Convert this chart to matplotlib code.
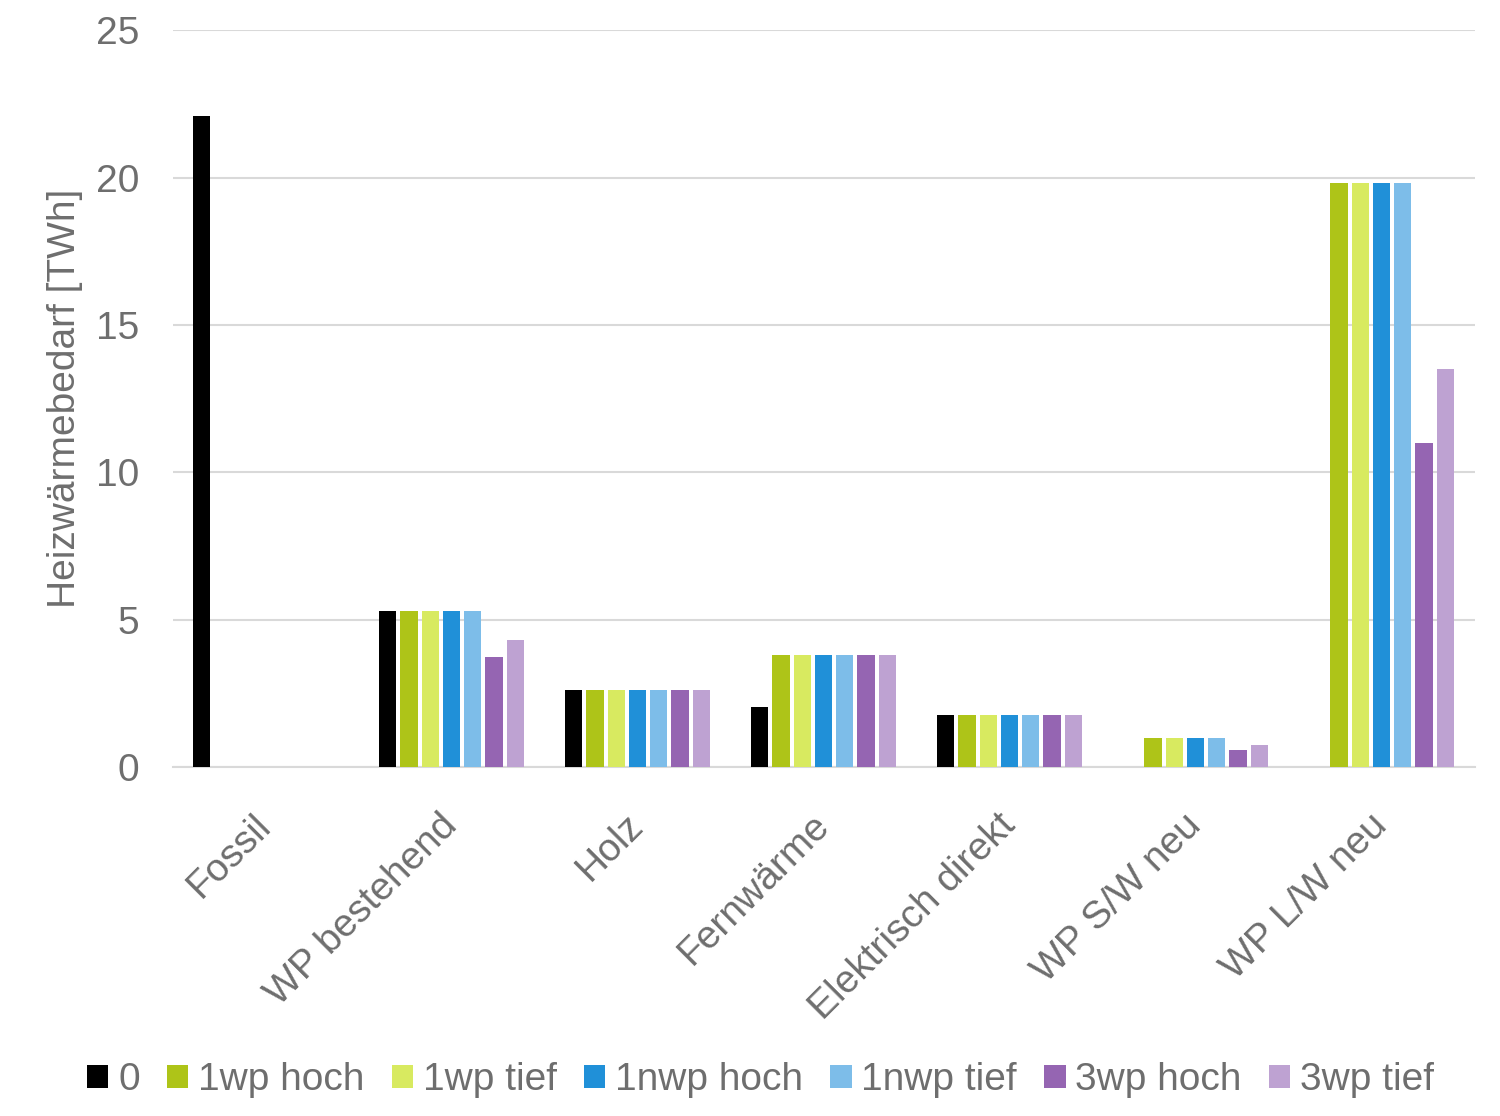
import matplotlib.pyplot as plt
import numpy as np

# === data
categories = ["Fossil", "WP bestehend", "Holz", "Fernwärme",
              "Elektrisch direkt", "WP S/W neu", "WP L/W neu"]
series = ["0", "1wp hoch", "1wp tief", "1nwp hoch", "1nwp tief", "3wp hoch", "3wp tief"]
values = {
    "0":         [22.1, 5.3, 2.6, 2.05, 1.75, 0.0, 0.0],
    "1wp hoch":  [0.0, 5.3, 2.6, 3.8, 1.75, 0.98, 19.8],
    "1wp tief":  [0.0, 5.3, 2.6, 3.8, 1.75, 0.98, 19.8],
    "1nwp hoch": [0.0, 5.3, 2.6, 3.8, 1.75, 0.98, 19.8],
    "1nwp tief": [0.0, 5.3, 2.6, 3.8, 1.75, 0.98, 19.8],
    "3wp hoch":  [0.0, 3.73, 2.6, 3.8, 1.75, 0.58, 11.0],
    "3wp tief":  [0.0, 4.3, 2.6, 3.8, 1.75, 0.75, 13.5],
}
colors = ["#000000", "#aec418", "#d8ea60", "#2090d8", "#7dbde9", "#9565b2", "#bea2d2"]

grey = "#6e6e6e"
plt.rcParams['font.family'] = ['Liberation Sans', 'DejaVu Sans']

fig = plt.figure(figsize=(15, 11.16), dpi=100)
ax = fig.add_axes([0.115, 0.3127, 0.868, 0.6603])

x = np.arange(len(categories))
pitch = 0.8 / len(series)
bw = 0.092
for i, s in enumerate(series):
    ax.bar(x - 0.4 + pitch * (i + 0.5), values[s], bw, color=colors[i], label=s, zorder=3)

ax.set_xlim(-0.5, len(categories) - 0.5)
ax.set_ylim(0, 25)
ax.set_yticks([0, 5, 10, 15, 20, 25])
ax.yaxis.grid(True, color="#d9d9d9", linewidth=1.5, zorder=0)
for side in ["top", "right", "left"]:
    ax.spines[side].set_visible(False)
ax.spines["bottom"].set_color("#d9d9d9")
ax.spines["bottom"].set_linewidth(1.5)
ax.tick_params(axis="both", length=0, labelsize=28, labelcolor=grey)
ax.tick_params(axis="y", pad=24)
ax.set_xticks(x)
ax.set_xticklabels(categories, rotation=45, ha="right", va="center",
                   rotation_mode="anchor")
ax.tick_params(axis="x", pad=38)
ax.set_ylabel("Heizwärmebedarf [TWh]", fontsize=28, color=grey, labelpad=9)

leg = fig.legend(loc="center", bbox_to_anchor=(0.507, 0.032), ncol=7, frameon=False,
                 prop={"family": ["Liberation Sans Narrow", "Liberation Sans"], "size": 28},
                 handlelength=0.55, handleheight=0.55, handletextpad=0.25,
                 columnspacing=0.7, labelcolor=grey)

fig.savefig("out.png", dpi=100, facecolor="white")
